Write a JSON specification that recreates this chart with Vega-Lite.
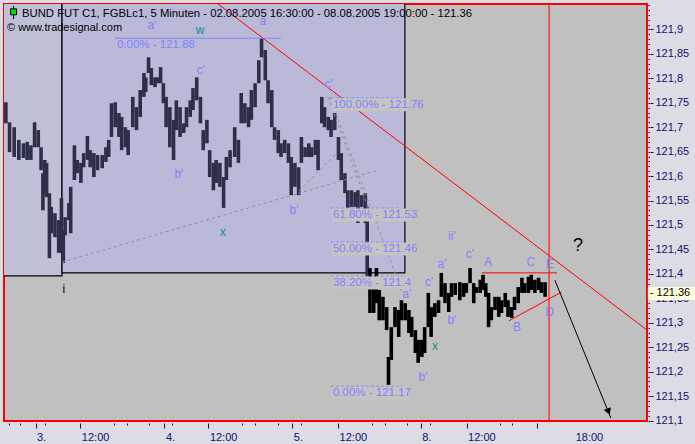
{
"$schema": "https://vega.github.io/schema/vega-lite/v6.json",
"width": 643, "height": 417,
"autosize": "none",
"padding": {"left": 4, "top": 4, "right": 48, "bottom": 23},
"background": "#dcdce4",
"config": {
  "view": {"fill": "#c0c0c0", "stroke": "#ff0000", "strokeWidth": 2},
  "axis": {"grid": false, "domain": false, "title": null, "labelFont": "Liberation Sans", "labelFontSize": 11, "labelColor": "#10106e", "tickColor": "#10106e", "labelOverlap": false, "labelFlush": false},
  "text": {"font": "Liberation Sans"}
},
"title": {
  "text": "BUND FUT C1, FGBLc1, 5 Minuten - 02.08.2005 16:30:00 - 08.08.2005 19:00:00 - 121.36",
  "anchor": "start", "frame": "group", "orient": "top", "offset": -26, "dx": 18, "baseline": "alphabetic",
  "font": "Liberation Sans", "fontSize": 11.3, "fontWeight": "normal", "color": "#000000"
},
"datasets": {
  "zones": [
    {"zone": "pre", "t0": -3, "t1": 62.6, "p0": 121.396, "p1": 121.97},
    {"zone": "main", "t0": 62.6, "t1": 432.7, "p0": 121.402, "p1": 121.97}
  ],
  "price": [{"t":2,"h":121.751,"l":121.708},{"t":6,"h":121.71,"l":121.649},{"t":11,"h":121.7,"l":121.639},{"t":16,"h":121.674,"l":121.633},{"t":21,"h":121.667,"l":121.637},{"t":25,"h":121.67,"l":121.633},{"t":29,"h":121.663,"l":121.633},{"t":33,"h":121.71,"l":121.659},{"t":37,"h":121.694,"l":121.659},{"t":40,"h":121.659,"l":121.612},{"t":42,"h":121.606,"l":121.53},{"t":44,"h":121.633,"l":121.565},{"t":46,"h":121.627,"l":121.557},{"t":49,"h":121.565,"l":121.432},{"t":51,"h":121.537,"l":121.483},{"t":55,"h":121.524,"l":121.475},{"t":59,"h":121.51,"l":121.443},{"t":62,"h":121.555,"l":121.443},{"t":64,"h":121.49,"l":121.422},{"t":66,"h":121.516,"l":121.479},{"t":70,"h":121.545,"l":121.51},{"t":72,"h":121.578,"l":121.483},{"t":76,"h":121.663,"l":121.592},{"t":79,"h":121.633,"l":121.606},{"t":83,"h":121.627,"l":121.586},{"t":86,"h":121.647,"l":121.618},{"t":90,"h":121.682,"l":121.633},{"t":93,"h":121.653,"l":121.618},{"t":97,"h":121.647,"l":121.598},{"t":101,"h":121.643,"l":121.612},{"t":106,"h":121.643,"l":121.616},{"t":110,"h":121.659,"l":121.629},{"t":113,"h":121.674,"l":121.639},{"t":116,"h":121.749,"l":121.68},{"t":120,"h":121.751,"l":121.7},{"t":124,"h":121.729,"l":121.68},{"t":127,"h":121.721,"l":121.653},{"t":131,"h":121.7,"l":121.659},{"t":134,"h":121.694,"l":121.643},{"t":139,"h":121.762,"l":121.7},{"t":143,"h":121.741,"l":121.694},{"t":147,"h":121.776,"l":121.721},{"t":151,"h":121.811,"l":121.762},{"t":153,"h":121.802,"l":121.772},{"t":156,"h":121.843,"l":121.811},{"t":159,"h":121.821,"l":121.786},{"t":163,"h":121.802,"l":121.782},{"t":166,"h":121.802,"l":121.79},{"t":169,"h":121.823,"l":121.79},{"t":172,"h":121.79,"l":121.749},{"t":175,"h":121.762,"l":121.7},{"t":179,"h":121.741,"l":121.659},{"t":183,"h":121.715,"l":121.633},{"t":186,"h":121.755,"l":121.694},{"t":190,"h":121.741,"l":121.68},{"t":194,"h":121.708,"l":121.688},{"t":197,"h":121.741,"l":121.7},{"t":201,"h":121.755,"l":121.721},{"t":204,"h":121.78,"l":121.735},{"t":208,"h":121.802,"l":121.755},{"t":212,"h":121.762,"l":121.708},{"t":215,"h":121.694,"l":121.653},{"t":219,"h":121.715,"l":121.667},{"t":222,"h":121.653,"l":121.598},{"t":226,"h":121.627,"l":121.571},{"t":229,"h":121.633,"l":121.586},{"t":233,"h":121.627,"l":121.578},{"t":237,"h":121.598,"l":121.535},{"t":240,"h":121.639,"l":121.592},{"t":244,"h":121.653,"l":121.618},{"t":249,"h":121.7,"l":121.639},{"t":253,"h":121.674,"l":121.627},{"t":256,"h":121.77,"l":121.708},{"t":260,"h":121.749,"l":121.708},{"t":264,"h":121.741,"l":121.7},{"t":267,"h":121.776,"l":121.715},{"t":271,"h":121.79,"l":121.741},{"t":275,"h":121.837,"l":121.79},{"t":278,"h":121.882,"l":121.843},{"t":282,"h":121.858,"l":121.796},{"t":285,"h":121.796,"l":121.749},{"t":289,"h":121.776,"l":121.7},{"t":292,"h":121.7,"l":121.674},{"t":296,"h":121.694,"l":121.647},{"t":299,"h":121.667,"l":121.639},{"t":303,"h":121.674,"l":121.647},{"t":307,"h":121.667,"l":121.627},{"t":310,"h":121.639,"l":121.561},{"t":314,"h":121.627,"l":121.578},{"t":318,"h":121.618,"l":121.561},{"t":321,"h":121.68,"l":121.627},{"t":325,"h":121.659,"l":121.639},{"t":329,"h":121.667,"l":121.639},{"t":332,"h":121.659,"l":121.639},{"t":336,"h":121.674,"l":121.643},{"t":339,"h":121.674,"l":121.612},{"t":343,"h":121.762,"l":121.708},{"t":346,"h":121.741,"l":121.7},{"t":350,"h":121.721,"l":121.694},{"t":353,"h":121.715,"l":121.68},{"t":357,"h":121.729,"l":121.694},{"t":361,"h":121.68,"l":121.633},{"t":364,"h":121.647,"l":121.592},{"t":368,"h":121.606,"l":121.565},{"t":371,"h":121.571,"l":121.535},{"t":375,"h":121.571,"l":121.537},{"t":379,"h":121.567,"l":121.537},{"t":382,"h":121.571,"l":121.504},{"t":386,"h":121.561,"l":121.537},{"t":390,"h":121.565,"l":121.504},{"t":392,"h":121.537,"l":121.394},{"t":395,"h":121.412,"l":121.32},{"t":399,"h":121.377,"l":121.32},{"t":402,"h":121.412,"l":121.34},{"t":405,"h":121.367,"l":121.305},{"t":409,"h":121.353,"l":121.305},{"t":413,"h":121.332,"l":121.285},{"t":415,"h":121.23,"l":121.173},{"t":418,"h":121.291,"l":121.224},{"t":422,"h":121.332,"l":121.291},{"t":426,"h":121.326,"l":121.271},{"t":429,"h":121.346,"l":121.305},{"t":433,"h":121.34,"l":121.305},{"t":437,"h":121.326,"l":121.279},{"t":440,"h":121.312,"l":121.271},{"t":444,"h":121.285,"l":121.238},{"t":447,"h":121.265,"l":121.218},{"t":451,"h":121.265,"l":121.23},{"t":454,"h":121.291,"l":121.238},{"t":458,"h":121.361,"l":121.291},{"t":461,"h":121.332,"l":121.271},{"t":465,"h":121.34,"l":121.312},{"t":469,"h":121.346,"l":121.32},{"t":472,"h":121.402,"l":121.353},{"t":476,"h":121.381,"l":121.34},{"t":480,"h":121.361,"l":121.322},{"t":483,"h":121.381,"l":121.353},{"t":487,"h":121.381,"l":121.357},{"t":492,"h":121.383,"l":121.346},{"t":496,"h":121.381,"l":121.353},{"t":499,"h":121.381,"l":121.361},{"t":503,"h":121.412,"l":121.381},{"t":507,"h":121.381,"l":121.34},{"t":510,"h":121.373,"l":121.361},{"t":514,"h":121.388,"l":121.361},{"t":517,"h":121.398,"l":121.367},{"t":520,"h":121.381,"l":121.353},{"t":523,"h":121.361,"l":121.291},{"t":526,"h":121.332,"l":121.305},{"t":530,"h":121.353,"l":121.326},{"t":534,"h":121.353,"l":121.312},{"t":537,"h":121.346,"l":121.32},{"t":541,"h":121.361,"l":121.332},{"t":544,"h":121.346,"l":121.312},{"t":548,"h":121.332,"l":121.31},{"t":551,"h":121.353,"l":121.326},{"t":555,"h":121.373,"l":121.34},{"t":559,"h":121.392,"l":121.361},{"t":562,"h":121.381,"l":121.361},{"t":566,"h":121.394,"l":121.361},{"t":569,"h":121.398,"l":121.367},{"t":573,"h":121.388,"l":121.361},{"t":577,"h":121.392,"l":121.367},{"t":580,"h":121.383,"l":121.361},{"t":584,"h":121.383,"l":121.353}],
  "events": [{"t": 588.3, "event": "Sitzungsende 08.08.2005 19:00"}],
  "trend": [
    {"seg": "L1", "t": 62.6, "p": 121.424}, {"seg": "L1", "t": 403.6, "p": 121.612},
    {"seg": "L2", "t": 314.0, "p": 121.561}, {"seg": "L2", "t": 359.3, "p": 121.647},
    {"seg": "L3", "t": 349.6, "p": 121.762}, {"seg": "L3", "t": 392.8, "p": 121.537},
    {"seg": "L4", "t": 351.8, "p": 121.762}, {"seg": "L4", "t": 430.6, "p": 121.357}
  ],
  "red": [
    {"seg": "R1", "t": 231, "p": 121.952}, {"seg": "R1", "t": 694, "p": 121.285},
    {"seg": "R2", "t": 515.8, "p": 121.402}, {"seg": "R2", "t": 596.8, "p": 121.402},
    {"seg": "R3", "t": 545.0, "p": 121.304}, {"seg": "R3", "t": 602.0, "p": 121.363}
  ],
  "fib": [
    {"p": 121.882, "txt": "0.00% - 121.88", "t0": 119.8, "t1": 298.9},
    {"p": 121.76, "txt": "100.00% - 121.76", "t0": 352.9, "t1": 429.5},
    {"p": 121.5346, "txt": "61.80% - 121.53", "t0": 352.9, "t1": 429.5},
    {"p": 121.465, "txt": "50.00% - 121.46", "t0": 352.9, "t1": 429.5},
    {"p": 121.3954, "txt": "38.20% - 121.4", "t0": 352.9, "t1": 429.5},
    {"p": 121.17, "txt": "0.00% - 121.17", "t0": 352.9, "t1": 429.5}
  ],
  "waves": [
    {"txt": "a'", "t": 159.7, "p": 121.909, "kind": "wave"},
    {"txt": "w", "t": 211.5, "p": 121.899, "kind": "teal"},
    {"txt": "a", "t": 279.5, "p": 121.918, "kind": "wave"},
    {"txt": "c'", "t": 212.6, "p": 121.817, "kind": "wave"},
    {"txt": "b'", "t": 188.8, "p": 121.604, "kind": "wave"},
    {"txt": "x", "t": 236.3, "p": 121.485, "kind": "teal"},
    {"txt": "b'", "t": 313.0, "p": 121.530, "kind": "wave"},
    {"txt": "c'", "t": 350.7, "p": 121.788, "kind": "wave"},
    {"txt": "a'", "t": 434.9, "p": 121.359, "kind": "wave"},
    {"txt": "c'", "t": 458.6, "p": 121.383, "kind": "wave"},
    {"txt": "a'", "t": 472.6, "p": 121.420, "kind": "wave"},
    {"txt": "b'", "t": 452.1, "p": 121.189, "kind": "wave"},
    {"txt": "x", "t": 465.1, "p": 121.253, "kind": "teal"},
    {"txt": "b'", "t": 483.4, "p": 121.306, "kind": "wave"},
    {"txt": "c'", "t": 502.9, "p": 121.440, "kind": "wave"},
    {"txt": "ii'", "t": 483.4, "p": 121.477, "kind": "wave"},
    {"txt": "A", "t": 522.3, "p": 121.424, "kind": "wave"},
    {"txt": "C", "t": 568.7, "p": 121.424, "kind": "wave"},
    {"txt": "E", "t": 589.2, "p": 121.420, "kind": "wave"},
    {"txt": "B", "t": 553.6, "p": 121.291, "kind": "wave"},
    {"txt": "D", "t": 589.2, "p": 121.322, "kind": "wave"},
    {"txt": "?", "t": 619.4, "p": 121.457, "kind": "black"},
    {"txt": "i", "t": 64.7, "p": 121.369, "kind": "black"}
  ],
  "arrow": [{"t": 594.6, "p": 121.387}, {"t": 655.0, "p": 121.105}],
  "arrowhead": [{"t": 652.5, "p": 121.118}],
  "last": [{"t": 584, "p": 121.36}],
  "icon": [{"symbol": "FGBLc1", "source": "© www.tradesignal.com"}]
},
"resolve": {"axis": {"x": "independent", "y": "independent"}},
"layer": [
  {
    "data": {"name": "zones"},
    "mark": {"type": "rect", "clip": true, "stroke": "#000000", "strokeWidth": 1.2},
    "encoding": {
      "x": {"field": "t0", "type": "quantitative", "scale": {"domain": [0, 694], "nice": false, "zero": false},
            "axis": {"orient": "bottom", "values": [5.1, 17.5, 43.9, 119.1, 132.6, 156.6, 181.5, 257.3, 270.7, 295.7, 320.5, 397.1, 410.7, 434.8, 459.7, 535.2, 548.4], "labels": false, "tickSize": 2, "offset": 2}},
      "x2": {"field": "t1"},
      "y": {"field": "p0", "type": "quantitative", "scale": {"domain": [121.099, 121.952], "nice": false, "zero": false},
            "axis": {"orient": "right", "tickCount": 85, "labels": false, "tickSize": 1.5, "offset": 1}},
      "y2": {"field": "p1"},
      "fill": {"condition": {"test": "datum.zone === 'pre'", "value": "#c0c0d8"}, "value": "#babad8"}
    }
  },
  {
    "data": {"name": "price"},
    "mark": {"type": "rule", "strokeWidth": 3.6},
    "encoding": {
      "x": {"field": "t", "type": "quantitative", "scale": {"domain": [0, 694], "nice": false, "zero": false},
            "axis": {"orient": "bottom", "values": [34.0, 82.4, 173.1, 220.6, 311.2, 360.6, 449.9, 499.3, 575.1],
                     "labelExpr": "datum.value < 60 ? '3.' : datum.value < 150 ? '12:00' : datum.value < 200 ? '4.' : datum.value < 280 ? '12:00' : datum.value < 340 ? '5.' : datum.value < 420 ? '12:00' : datum.value < 480 ? '8.' : datum.value < 540 ? '12:00' : ''",
                     "labelAlign": "left", "labelOffset": 1, "tickSize": 5, "offset": 2, "labelPadding": 3}},
      "y": {"field": "h", "type": "quantitative", "scale": {"domain": [121.099, 121.952], "nice": false, "zero": false},
            "axis": {"orient": "right", "values": [121.1, 121.15, 121.2, 121.25, 121.3, 121.35, 121.4, 121.45, 121.5, 121.55, 121.6, 121.65, 121.7, 121.75, 121.8, 121.85, 121.9],
                     "labelExpr": "replace(format(datum.value, '.2~f'), '.', ',')", "tickSize": 3, "offset": 3, "labelPadding": 2, "labelBaseline": "middle"}},
      "y2": {"field": "l"},
      "color": {"condition": {"test": "datum.t <= 392", "value": "#2e2e48"}, "value": "#000000"}
    }
  },
  {
    "data": {"name": "events"},
    "mark": {"type": "rule", "color": "#ff0000", "strokeWidth": 1},
    "encoding": {
      "x": {"field": "t", "type": "quantitative", "scale": {"domain": [0, 694], "nice": false, "zero": false},
            "axis": {"orient": "bottom", "values": [631.3], "labelExpr": "'18:00'", "ticks": false, "tickSize": 0, "offset": 2, "labelPadding": 8, "labelAlign": "center"}}
    }
  },
  {
    "data": {"name": "trend"},
    "mark": {"type": "line", "color": "#8e8e9a", "strokeWidth": 1, "strokeDash": [3, 3]},
    "encoding": {
      "x": {"field": "t", "type": "quantitative", "scale": {"domain": [0, 694], "nice": false, "zero": false}, "axis": null},
      "y": {"field": "p", "type": "quantitative", "scale": {"domain": [121.099, 121.952], "nice": false, "zero": false}, "axis": null},
      "detail": {"field": "seg"}
    }
  },
  {
    "data": {"name": "red"},
    "mark": {"type": "line", "color": "#ff0000", "strokeWidth": 1},
    "encoding": {
      "x": {"field": "t", "type": "quantitative", "scale": {"domain": [0, 694], "nice": false, "zero": false}, "axis": null},
      "y": {"field": "p", "type": "quantitative", "scale": {"domain": [121.099, 121.952], "nice": false, "zero": false}, "axis": null},
      "detail": {"field": "seg"}
    }
  },
  {
    "data": {"name": "fib"},
    "mark": {"type": "rule", "color": "#8080ff", "strokeWidth": 1},
    "encoding": {
      "x": {"field": "t0", "type": "quantitative", "scale": {"domain": [0, 694], "nice": false, "zero": false}, "axis": null},
      "x2": {"field": "t1"},
      "y": {"field": "p", "type": "quantitative", "scale": {"domain": [121.099, 121.952], "nice": false, "zero": false}, "axis": null},
      "strokeDash": {"condition": {"test": "datum.p > 121.85", "value": [1, 0]}, "value": [3, 2]}
    }
  },
  {
    "data": {"name": "fib"},
    "transform": [{"filter": "datum.p < 121.85"}],
    "mark": {"type": "tick", "orient": "horizontal", "color": "#c4c4c4", "opacity": 1, "size": 78, "thickness": 13, "yOffset": 7},
    "encoding": {
      "x": {"datum": 396, "type": "quantitative", "scale": {"domain": [0, 694], "nice": false, "zero": false}, "axis": null},
      "y": {"field": "p", "type": "quantitative", "scale": {"domain": [121.099, 121.952], "nice": false, "zero": false}, "axis": null}
    }
  },
  {
    "data": {"name": "fib"},
    "mark": {"type": "text", "align": "left", "baseline": "top", "dx": 2, "dy": 1, "fontSize": 11.5, "color": "#8080ff"},
    "encoding": {
      "x": {"field": "t0", "type": "quantitative", "scale": {"domain": [0, 694], "nice": false, "zero": false}, "axis": null},
      "y": {"field": "p", "type": "quantitative", "scale": {"domain": [121.099, 121.952], "nice": false, "zero": false}, "axis": null},
      "text": {"field": "txt"}
    }
  },
  {
    "data": {"name": "waves"},
    "mark": {"type": "text", "align": "center", "baseline": "middle"},
    "encoding": {
      "x": {"field": "t", "type": "quantitative", "scale": {"domain": [0, 694], "nice": false, "zero": false}, "axis": null},
      "y": {"field": "p", "type": "quantitative", "scale": {"domain": [121.099, 121.952], "nice": false, "zero": false}, "axis": null},
      "text": {"field": "txt"},
      "color": {"condition": [{"test": "datum.kind === 'teal'", "value": "#208a8a"}, {"test": "datum.kind === 'black'", "value": "#000000"}], "value": "#8080ff"},
      "size": {"condition": {"test": "datum.txt === '?'", "value": 18}, "value": 12}
    }
  },
  {
    "data": {"name": "arrow"},
    "mark": {"type": "line", "color": "#000000", "strokeWidth": 1},
    "encoding": {
      "x": {"field": "t", "type": "quantitative", "scale": {"domain": [0, 694], "nice": false, "zero": false}, "axis": null},
      "y": {"field": "p", "type": "quantitative", "scale": {"domain": [121.099, 121.952], "nice": false, "zero": false}, "axis": null}
    }
  },
  {
    "data": {"name": "arrowhead"},
    "mark": {"type": "point", "shape": "triangle-down", "filled": true, "color": "#000000", "size": 60, "angle": -22, "opacity": 1},
    "encoding": {
      "x": {"field": "t", "type": "quantitative", "scale": {"domain": [0, 694], "nice": false, "zero": false}, "axis": null},
      "y": {"field": "p", "type": "quantitative", "scale": {"domain": [121.099, 121.952], "nice": false, "zero": false}, "axis": null}
    }
  },
  {
    "data": {"name": "last"},
    "mark": {"type": "tick", "orient": "horizontal", "color": "#ffffe0", "opacity": 1, "size": 47, "thickness": 13},
    "encoding": {
      "x": {"datum": 720.3, "type": "quantitative", "scale": {"domain": [0, 694], "nice": false, "zero": false}, "axis": null},
      "y": {"field": "p", "type": "quantitative", "scale": {"domain": [121.099, 121.952], "nice": false, "zero": false}, "axis": null}
    }
  },
  {
    "data": {"name": "last"},
    "mark": {"type": "text", "align": "left", "baseline": "middle", "fontSize": 11, "color": "#000000"},
    "encoding": {
      "x": {"datum": 697.1, "type": "quantitative", "scale": {"domain": [0, 694], "nice": false, "zero": false}, "axis": null},
      "y": {"field": "p", "type": "quantitative", "scale": {"domain": [121.099, 121.952], "nice": false, "zero": false}, "axis": null},
      "text": {"value": "- 121.36"}
    }
  },
  {
    "data": {"name": "icon"},
    "mark": {"type": "text", "align": "left", "baseline": "middle", "fontSize": 11, "color": "#000000"},
    "encoding": {
      "x": {"datum": 3.2, "type": "quantitative", "scale": {"domain": [0, 694], "nice": false, "zero": false}, "axis": null},
      "y": {"datum": 121.903, "type": "quantitative", "scale": {"domain": [121.099, 121.952], "nice": false, "zero": false}, "axis": null},
      "text": {"field": "source"}
    }
  },
  {
    "data": {"name": "icon"},
    "mark": {"type": "rule", "color": "#000000", "strokeWidth": 1},
    "encoding": {
      "x": {"datum": 10.3, "type": "quantitative", "scale": {"domain": [0, 694], "nice": false, "zero": false}, "axis": null},
      "y": {"datum": 121.948, "type": "quantitative", "scale": {"domain": [121.099, 121.952], "nice": false, "zero": false}, "axis": null},
      "y2": {"datum": 121.921}
    }
  },
  {
    "data": {"name": "icon"},
    "mark": {"type": "point", "shape": "square", "filled": true, "color": "#00e000", "stroke": "#000000", "strokeWidth": 1, "size": 36, "opacity": 1},
    "encoding": {
      "x": {"datum": 10.3, "type": "quantitative", "scale": {"domain": [0, 694], "nice": false, "zero": false}, "axis": null},
      "y": {"datum": 121.936, "type": "quantitative", "scale": {"domain": [121.099, 121.952], "nice": false, "zero": false}, "axis": null}
    }
  }
]
}
